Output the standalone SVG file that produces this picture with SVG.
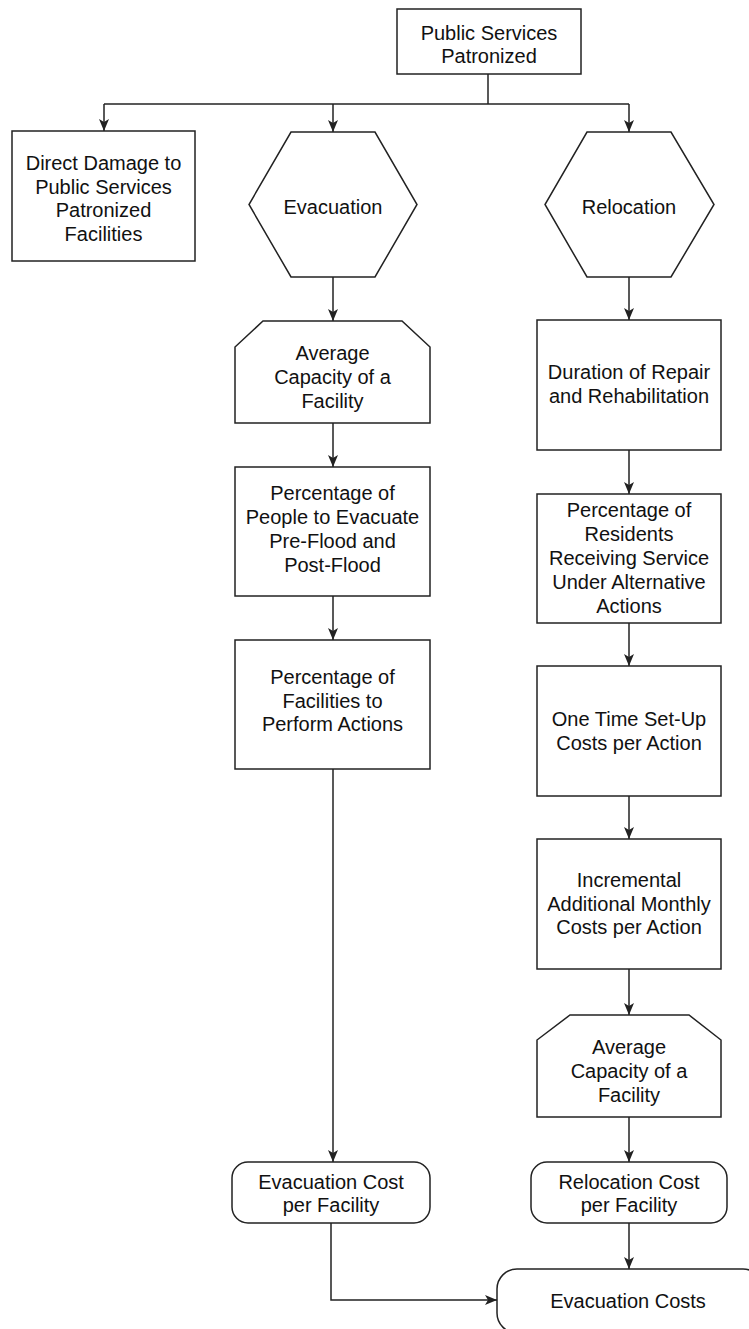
<svg xmlns="http://www.w3.org/2000/svg" width="749" height="1329" viewBox="0 0 749 1329">
  <style>
    .shape { fill: #ffffff; stroke: #222222; stroke-width: 1.5; }
    .conn { fill: none; stroke: #222222; stroke-width: 1.5; }
    text { font-family: "Liberation Sans", Arial, sans-serif; font-size: 20px; fill: #111111; text-anchor: middle; }
  </style>
  <defs>
    <marker id="arrow" markerUnits="userSpaceOnUse" markerWidth="12" markerHeight="10" viewBox="0 0 12 10" refX="12" refY="5" orient="auto">
      <path d="M0,0 L12,5 L0,10 L3,5 z" fill="#222222"/>
    </marker>
  </defs>
  <rect width="749" height="1329" fill="#ffffff"/>

  <g id="connectors">
    <path class="conn" d="M488,74 V104"/>
    <path class="conn" d="M104,104 H629"/>
    <path class="conn" d="M104,104 V131" marker-end="url(#arrow)"/>
    <path class="conn" d="M333,104 V132" marker-end="url(#arrow)"/>
    <path class="conn" d="M629,104 V132" marker-end="url(#arrow)"/>
    <path class="conn" d="M333,277 V321" marker-end="url(#arrow)"/>
    <path class="conn" d="M333,423 V467" marker-end="url(#arrow)"/>
    <path class="conn" d="M333,596 V640" marker-end="url(#arrow)"/>
    <path class="conn" d="M333,769 V1162" marker-end="url(#arrow)"/>
    <path class="conn" d="M629,277 V320" marker-end="url(#arrow)"/>
    <path class="conn" d="M629,450 V494" marker-end="url(#arrow)"/>
    <path class="conn" d="M629,623 V666" marker-end="url(#arrow)"/>
    <path class="conn" d="M629,796 V839" marker-end="url(#arrow)"/>
    <path class="conn" d="M629,969 V1015" marker-end="url(#arrow)"/>
    <path class="conn" d="M629,1117 V1162" marker-end="url(#arrow)"/>
    <path class="conn" d="M629,1223 V1269" marker-end="url(#arrow)"/>
    <path class="conn" d="M331,1223 V1300 H497" marker-end="url(#arrow)"/>
  </g>

  <g id="public-services">
    <rect class="shape" x="397" y="9" width="184" height="65"/>
    <text x="489" y="40">Public Services</text>
    <text x="489" y="63">Patronized</text>
  </g>

  <g id="direct-damage">
    <rect class="shape" x="12" y="131" width="183" height="130"/>
    <text x="103.5" y="170">Direct Damage to</text>
    <text x="103.5" y="193.5">Public Services</text>
    <text x="103.5" y="217">Patronized</text>
    <text x="103.5" y="240.5">Facilities</text>
  </g>

  <g id="evacuation">
    <polygon class="shape" points="291,132 375,132 417,204.5 375,277 291,277 249,204.5"/>
    <text x="333" y="214">Evacuation</text>
  </g>

  <g id="relocation">
    <polygon class="shape" points="587,132 671,132 714,204.5 671,277 587,277 545,204.5"/>
    <text x="629" y="214">Relocation</text>
  </g>

  <g id="evac-avg-capacity">
    <polygon class="shape" points="263,321 402,321 430,347 430,423 235,423 235,347"/>
    <text x="332.5" y="360">Average</text>
    <text x="332.5" y="384">Capacity of a</text>
    <text x="332.5" y="408">Facility</text>
  </g>

  <g id="evac-people">
    <rect class="shape" x="235" y="467" width="195" height="129"/>
    <text x="332.5" y="500">Percentage of</text>
    <text x="332.5" y="524">People to Evacuate</text>
    <text x="332.5" y="548">Pre-Flood and</text>
    <text x="332.5" y="572">Post-Flood</text>
  </g>

  <g id="evac-facilities">
    <rect class="shape" x="235" y="640" width="195" height="129"/>
    <text x="332.5" y="684">Percentage of</text>
    <text x="332.5" y="707.5">Facilities to</text>
    <text x="332.5" y="731">Perform Actions</text>
  </g>

  <g id="evac-cost">
    <rect class="shape" x="232" y="1162" width="198" height="61" rx="16"/>
    <text x="331" y="1189">Evacuation Cost</text>
    <text x="331" y="1212">per Facility</text>
  </g>

  <g id="reloc-duration">
    <rect class="shape" x="537" y="320" width="184" height="130"/>
    <text x="629" y="379">Duration of Repair</text>
    <text x="629" y="403">and Rehabilitation</text>
  </g>

  <g id="reloc-residents">
    <rect class="shape" x="537" y="494" width="184" height="129"/>
    <text x="629" y="517">Percentage of</text>
    <text x="629" y="541">Residents</text>
    <text x="629" y="565">Receiving Service</text>
    <text x="629" y="589">Under Alternative</text>
    <text x="629" y="613">Actions</text>
  </g>

  <g id="reloc-setup">
    <rect class="shape" x="537" y="666" width="184" height="130"/>
    <text x="629" y="726">One Time Set-Up</text>
    <text x="629" y="750">Costs per Action</text>
  </g>

  <g id="reloc-monthly">
    <rect class="shape" x="537" y="839" width="184" height="130"/>
    <text x="629" y="887">Incremental</text>
    <text x="629" y="910.5">Additional Monthly</text>
    <text x="629" y="934">Costs per Action</text>
  </g>

  <g id="reloc-avg-capacity">
    <polygon class="shape" points="570,1015 689,1015 721,1040 721,1117 537,1117 537,1040"/>
    <text x="629" y="1054">Average</text>
    <text x="629" y="1078">Capacity of a</text>
    <text x="629" y="1102">Facility</text>
  </g>

  <g id="reloc-cost">
    <rect class="shape" x="531" y="1162" width="196" height="61" rx="16"/>
    <text x="629" y="1189">Relocation Cost</text>
    <text x="629" y="1212">per Facility</text>
  </g>

  <g id="evacuation-costs">
    <rect class="shape" x="497" y="1269" width="266" height="64" rx="20"/>
    <text x="628" y="1308">Evacuation Costs</text>
  </g>
</svg>
